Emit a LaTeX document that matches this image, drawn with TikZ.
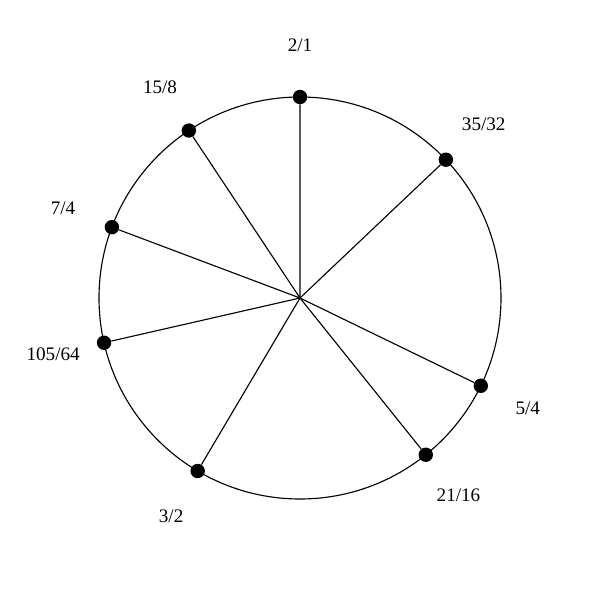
\documentclass[tikz,border=0pt]{standalone}
\usepackage{fontspec}
\setmainfont{Liberation Serif}
\usetikzlibrary{positioning}

\begin{document}
\begin{tikzpicture}[
    dot/.style={circle, fill=black, inner sep=0pt, minimum size=0.36cm},
    ratio/.style={font=\fontsize{13.6}{16}\selectfont, inner sep=1pt},
    spoke/.style={line width=0.8pt}]
    \useasboundingbox (-7.5,-7.55) rectangle (7.5,7.45);
    % Circle of pitches
    \coordinate (c) at (0,0);
    \draw[spoke] (c) circle (5.025cm);
    % Ratios placed by their log2 position
    \foreach \name/\num/\den in {oct/2/1, sept/35/32, third/5/4, fourth/21/16,
        fifth/3/2, sixth/105/64, seventh/7/4, maj/15/8}
    {
        \pgfmathsetmacro{\ang}{90-360*ln(\num/\den)/ln(2)}
        \node[dot] (\name) at (\ang:5.025cm) {};
        \draw[spoke] (c) -- (\name);
        \node[ratio] (l\name) at (\ang:6.33cm) {\num/\den};
    }
\end{tikzpicture}
\end{document}
